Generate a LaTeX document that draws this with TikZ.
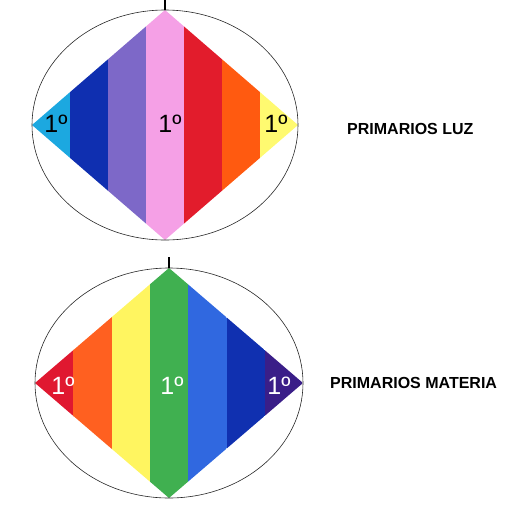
\documentclass[tikz,border=0pt]{standalone}
\usepackage{fontspec}
\setmainfont{Liberation Sans}
\usetikzlibrary{positioning}
\definecolor{luzcyan}{HTML}{1CA8E0}
\definecolor{luzblue}{HTML}{0F2FB0}
\definecolor{luzviolet}{HTML}{7D68C8}
\definecolor{luzpink}{HTML}{F5A0E6}
\definecolor{luzred}{HTML}{E21C2C}
\definecolor{luzorange}{HTML}{FF5A10}
\definecolor{luzyellow}{HTML}{FFFA70}
\definecolor{matred}{HTML}{E01830}
\definecolor{matorange}{HTML}{FF6020}
\definecolor{matyellow}{HTML}{FFF560}
\definecolor{matgreen}{HTML}{40B050}
\definecolor{matblue}{HTML}{3068E0}
\definecolor{matnavy}{HTML}{1030B0}
\definecolor{matviolet}{HTML}{3A1E88}
\tikzset{rim/.style={draw=black!85, line width=0.6pt},
tick/.style={line width=1.4pt},
grade/.style={font=\fontsize{25}{25}\selectfont, inner sep=0pt},
caption/.style={font=\bfseries\fontsize{16}{16}\selectfont, inner sep=0pt}
}

\begin{document}
\begin{tikzpicture}[x=1pt, y=-1pt]
    \useasboundingbox (0,0) rectangle (527,523);
    % primarios luz
    \coordinate (luz_tick) at (165,0);
    \coordinate (luz_n) at (165,10);
    \coordinate (luz_s) at (165,240);
    \coordinate (luz_w) at (32,125);
    \coordinate (luz_e) at (298,125);
    \begin{scope}
        \clip (luz_n) -- (luz_e) -- (luz_s) -- (luz_w) -- cycle;
        \foreach \c [count=\i from 0] in {luzcyan,luzblue,luzviolet,luzpink,luzred,luzorange,luzyellow}
            \fill[\c] (32+\i*38,10) rectangle ++(38.2,230);
    \end{scope}
    \draw[rim] (165,125) ellipse [x radius=133pt, y radius=115pt];
    \draw[tick] (luz_tick) -- (luz_n);
    \node[grade] (luz_1) at (56,124) {1º};
    \node[grade] (luz_2) at (170,124) {1º};
    \node[grade] (luz_3) at (276,124) {1º};
    \node[caption, right=49pt of luz_e, yshift=-4pt] (luz_cap) {PRIMARIOS LUZ};
    % primarios materia
    \coordinate (mat_tick) at (169,257);
    \coordinate (mat_n) at (169,268);
    \coordinate (mat_s) at (169,498);
    \coordinate (mat_w) at (35,383);
    \coordinate (mat_e) at (303,383);
    \begin{scope}
        \clip (mat_n) -- (mat_e) -- (mat_s) -- (mat_w) -- cycle;
        \foreach \c [count=\i from 0] in {matred,matorange,matyellow,matgreen,matblue,matnavy,matviolet}
            \fill[\c] (35+\i*38.3,268) rectangle ++(38.5,230);
    \end{scope}
    \draw[rim] (169,383) ellipse [x radius=134pt, y radius=115pt];
    \draw[tick] (mat_tick) -- (mat_n);
    \node[grade, white] (mat_1) at (63,386) {1º};
    \node[grade, white] (mat_2) at (172,386) {1º};
    \node[grade, white] (mat_3) at (279,386) {1º};
    \node[caption, right=27pt of mat_e] (mat_cap) {PRIMARIOS MATERIA};
\end{tikzpicture}
\end{document}
